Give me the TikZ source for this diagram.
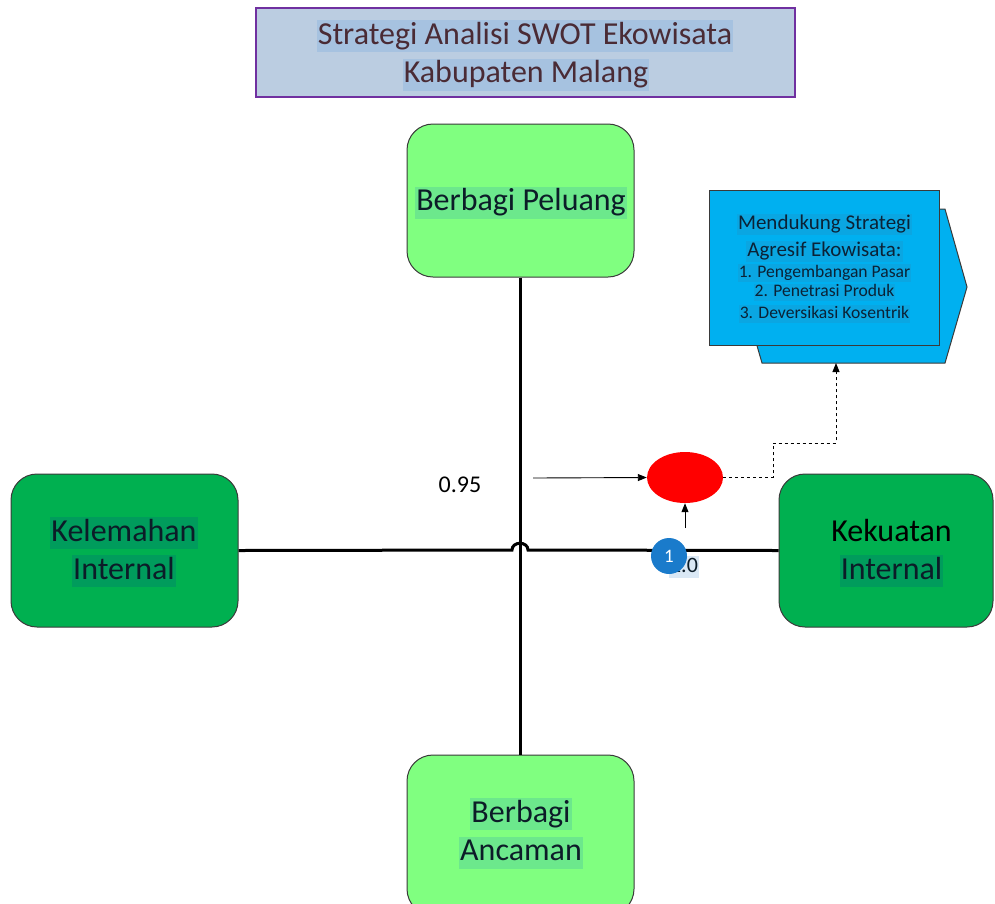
\documentclass[tikz,border=0pt]{standalone}
\usepackage{fontspec}
\setmainfont{Carlito}
\usetikzlibrary{arrows.meta,shapes.geometric}
\definecolor{titlefill}{HTML}{BBCDE1}
\definecolor{titleborder}{HTML}{7030A0}
\definecolor{titletext}{HTML}{4A2B35}
\definecolor{titlehl}{HTML}{A6C2E0}
\definecolor{lgreen}{HTML}{80FF80}
\definecolor{lgreenhl}{HTML}{6CE88C}
\definecolor{dgreen}{HTML}{00B050}
\definecolor{dgreenhl}{HTML}{009C5C}
\definecolor{boxtext}{HTML}{0C1C28}
\definecolor{bluefill}{HTML}{00B0F0}
\definecolor{bluehl}{HTML}{0AA6E2}
\definecolor{bluetext}{HTML}{0B2236}
\definecolor{circblue}{HTML}{1A7BCB}
\definecolor{lblhl}{HTML}{DAE8F5}
\definecolor{edge}{HTML}{3A3A3A}
\tikzset{
  x=1pt, y=-1pt,
  rbox/.style={draw=edge, line width=1pt, rounded corners=26pt, inner sep=0pt},
  hl/.style n args={3}{font=\fontsize{#1}{#1}\selectfont, inner xsep=1pt, inner ysep=0pt, text height=#2pt, text depth=#3pt, anchor=center},
  thick line/.style={line width=3pt, black},
  thin arrow/.style={line width=0.9pt, black, -{Triangle[length=9pt,width=7pt]}},
}
\begin{document}
\begin{tikzpicture}
\useasboundingbox (0,0) rectangle (995,903);
% title
\node[draw=titleborder, line width=2pt, fill=titlefill, minimum width=539pt, minimum height=89pt, inner sep=0pt] (title) at (525.5,52.5) {};
\node[hl={32}{24}{8}, fill=titlehl, text=titletext] (title1) at (525,36) {Strategi Analisi SWOT Ekowisata};
\node[hl={32}{24}{8}, fill=titlehl, text=titletext] (title2) at (526,74.5) {Kabupaten Malang};
% boxes
\node[rbox, fill=lgreen, minimum width=227pt, minimum height=153pt] (peluang) at (520.5,200.5) {};
\node[rbox, fill=lgreen, minimum width=227pt, minimum height=160pt] (ancaman) at (520.5,835) {};
\node[rbox, fill=dgreen, minimum width=227pt, minimum height=153pt] (kelemahan) at (124.5,550.5) {};
\node[rbox, fill=dgreen, minimum width=214pt, minimum height=153pt] (kekuatan) at (886,550.5) {};
\node[hl={32}{24}{8}, fill=lgreenhl, text=boxtext] (peluangT) at (521,202.5) {Berbagi Peluang};
\node[hl={32}{24}{8}, fill=lgreenhl, text=boxtext] (ancaman1) at (521,814) {Berbagi};
\node[hl={32}{24}{8}, fill=lgreenhl, text=boxtext] (ancaman2) at (521,852.5) {Ancaman};
\node[hl={32}{24}{8}, fill=dgreenhl, text=boxtext] (kelemahan1) at (124,533) {Kelemahan};
\node[hl={32}{24}{8}, fill=dgreenhl, text=boxtext] (kelemahan2) at (124,571) {Internal};
\node[hl={32}{24}{8}, text=black] (kekuatan1) at (891.5,533) {Kekuatan};
\node[hl={32}{24}{8}, fill=dgreenhl, text=boxtext] (kekuatan2) at (891.5,571) {Internal};
% axes
\draw[thick line] (peluang.south -| 520,0) -- (ancaman.north -| 520,0);
\coordinate (hopL) at (512,550);
\coordinate (hopR) at (528,550);
\draw[thick line] (kelemahan.east) -- (hopL) .. controls (512,541) and (528,541) .. (hopR) -- (kekuatan.west);
% blue shape
\draw[draw=edge, line width=1pt, fill=bluefill] (762,209) -- (945,209) -- (967,287) -- (945,363) -- (762,363) -- (740,287) -- cycle;
\coordinate (backbottom) at (836,363);
\node[draw=edge, line width=1pt, fill=bluefill, minimum width=230pt, minimum height=155pt, inner sep=0pt] (front) at (824,267.5) {};
\node[hl={21}{15.75}{5.25}, fill=bluehl, text=bluetext] (b1) at (824.5,224) {Mendukung Strategi};
\node[hl={21}{15.75}{5.25}, fill=bluehl, text=bluetext] (b2) at (824.5,251) {Agresif Ekowisata:};
\node[hl={17.6}{13.2}{4.4}, fill=bluehl, text=bluetext] (b3) at (824.5,273) {1. Pengembangan Pasar};
\node[hl={17.6}{13.2}{4.4}, fill=bluehl, text=bluetext] (b4) at (824.5,292.5) {2. Penetrasi Produk};
\node[hl={17.6}{13.2}{4.4}, fill=bluehl, text=bluetext] (b5) at (824.5,314) {3. Deversikasi Kosentrik};
% red point
\node[ellipse, fill=red, minimum width=76pt, minimum height=51pt, inner sep=0pt] (pt) at (685,477.5) {};
\node[hl={24}{18}{6}] (v95) at (460,486) {0.95};
\coordinate (a95) at (533,478);
\draw[thin arrow] (a95) -- (pt.west);
\coordinate (aup) at (685,528);
\draw[thin arrow] (aup) -- (pt.south);
\draw[line width=0.9pt, dashed, -{Triangle[length=9pt,width=7pt]}] (pt.east) -- (773,477.5) -- (773,443) -- (836,443) -- (backbottom);
% 1.0 label and marker
\node[hl={22}{16.5}{5.5}, fill=lblhl, text=boxtext] (v10) at (684,567) {1.0};
\node[circle, fill=circblue, minimum size=36pt, inner sep=0pt, text=white, font=\fontsize{19}{22}\selectfont] (mark1) at (669,556) {1};
\end{tikzpicture}
\end{document}
